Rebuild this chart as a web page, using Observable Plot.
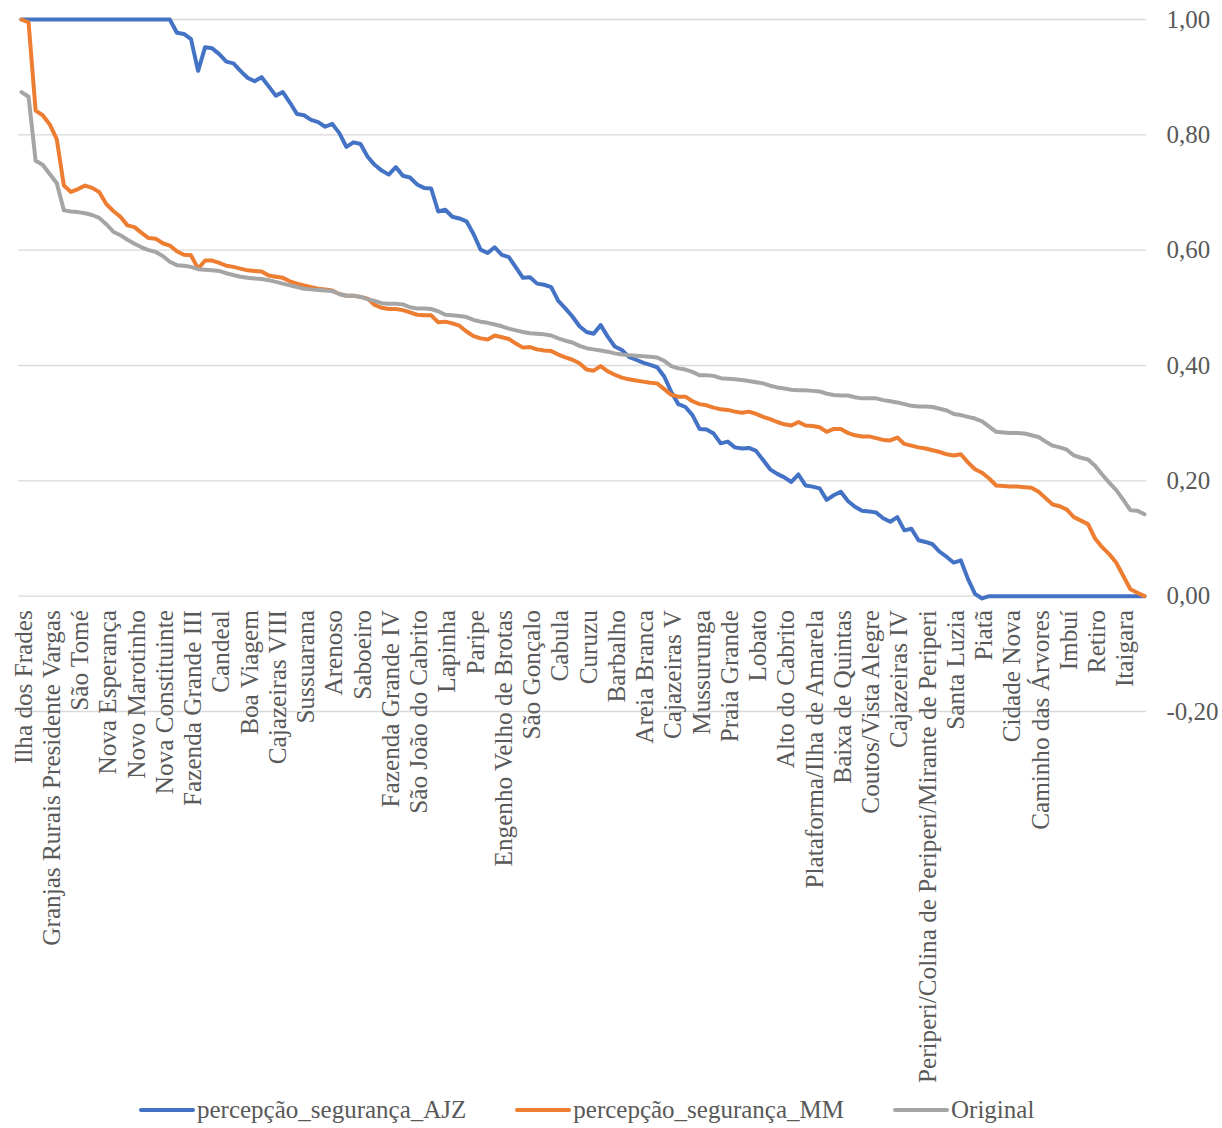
<!DOCTYPE html>
<html>
<head>
<meta charset="utf-8">
<script src="https://cdn.jsdelivr.net/npm/d3@7"></script>
<script src="https://cdn.jsdelivr.net/npm/@observablehq/plot@0.6"></script>
<style>
  html, body { margin: 0; padding: 0; background: #fff; overflow: hidden; }
  #legend { height: 36px; padding-top: 7px; padding-left: 139px; display: flex; align-items: center;
            font-family: "Liberation Serif", "Times New Roman", serif; font-size: 25px; color: #595959; }
  .item { display: flex; align-items: center; margin-right: 49px; white-space: nowrap; }
  .swatch { width: 56px; height: 4px; margin-right: 2px; border-radius: 2px; }
</style>
</head>
<body>
<div id="chart"></div>
<div id="legend"></div>
<script>
// Category labels shown on the axis (every 4th neighbourhood of 160)
const labels = ["Ilha dos Frades", "Granjas Rurais Presidente Vargas", "São Tomé", "Nova Esperança", "Novo Marotinho", "Nova Constituinte", "Fazenda Grande III", "Candeal", "Boa Viagem", "Cajazeiras VIII", "Sussuarana", "Arenoso", "Saboeiro", "Fazenda Grande IV", "São João do Cabrito", "Lapinha", "Paripe", "Engenho Velho de Brotas", "São Gonçalo", "Cabula", "Curuzu", "Barbalho", "Areia Branca", "Cajazeiras V", "Mussurunga", "Praia Grande", "Lobato", "Alto do Cabrito", "Plataforma/Ilha de Amarela", "Baixa de Quintas", "Coutos/Vista Alegre", "Cajazeiras IV", "Periperi/Colina de Periperi/Mirante de Periperi", "Santa Luzia", "Piatã", "Cidade Nova", "Caminho das Árvores", "Imbuí", "Retiro", "Itaigara"];
const labelStep = 4;
const nCategories = 160;

const seriesNames = ["percepção_segurança_AJZ", "percepção_segurança_MM", "Original"];
const seriesColors = ["#4472C4", "#ED7D31", "#A5A5A5"];

const ajz = [
1,1,1,1,1,1,1,1,1,1,
1,1,1,1,1,1,1,1,1,1,
1,1,0.977,0.975,0.966,0.911,0.952,0.950,0.940,0.927,
0.924,0.911,0.899,0.893,0.900,0.884,0.868,0.874,0.856,0.836,
0.834,0.826,0.822,0.814,0.819,0.803,0.779,0.787,0.784,0.762,
0.748,0.738,0.731,0.744,0.729,0.726,0.714,0.708,0.707,0.667,
0.670,0.658,0.655,0.650,0.628,0.601,0.595,0.605,0.592,0.588,
0.570,0.552,0.553,0.542,0.540,0.536,0.512,0.499,0.485,0.468,
0.458,0.455,0.470,0.450,0.433,0.427,0.415,0.410,0.405,0.401,
0.397,0.381,0.354,0.333,0.328,0.314,0.290,0.289,0.282,0.265,
0.268,0.258,0.256,0.257,0.252,0.236,0.220,0.212,0.206,0.198,
0.211,0.192,0.190,0.187,0.167,0.175,0.181,0.165,0.155,0.148,
0.147,0.145,0.135,0.129,0.137,0.114,0.117,0.097,0.094,0.090,
0.077,0.068,0.058,0.062,0.030,0.004,-0.004,0,0,0,
0,0,0,0,0,0,0,0,0,0,
0,0,0,0,0,0,0,0,0,0];

const mm = [
1.0,0.995,0.842,0.834,0.818,0.792,0.712,0.701,0.706,0.712,
0.708,0.701,0.680,0.668,0.658,0.643,0.640,0.630,0.621,0.620,
0.612,0.608,0.598,0.592,0.591,0.568,0.582,0.582,0.578,0.573,
0.571,0.568,0.565,0.564,0.563,0.556,0.554,0.552,0.546,0.542,
0.539,0.536,0.533,0.532,0.530,0.524,0.521,0.521,0.519,0.516,
0.505,0.500,0.498,0.498,0.496,0.492,0.488,0.487,0.487,0.475,
0.476,0.473,0.469,0.459,0.451,0.447,0.445,0.452,0.449,0.446,
0.438,0.431,0.432,0.428,0.426,0.425,0.419,0.414,0.410,0.404,
0.393,0.391,0.399,0.390,0.384,0.379,0.376,0.374,0.372,0.370,
0.369,0.359,0.349,0.346,0.346,0.338,0.333,0.331,0.327,0.324,
0.323,0.320,0.318,0.320,0.316,0.311,0.307,0.302,0.298,0.296,
0.302,0.296,0.295,0.293,0.285,0.290,0.290,0.283,0.279,0.277,
0.277,0.274,0.271,0.270,0.275,0.264,0.261,0.258,0.256,0.253,
0.250,0.246,0.244,0.246,0.232,0.220,0.214,0.204,0.192,0.191,
0.190,0.190,0.189,0.188,0.181,0.170,0.159,0.156,0.150,0.137,
0.131,0.125,0.100,0.085,0.073,0.058,0.035,0.012,0.006,0.0];

const original = [
0.874,0.866,0.755,0.748,0.732,0.716,0.669,0.667,0.666,0.664,
0.661,0.656,0.645,0.632,0.626,0.618,0.611,0.605,0.600,0.597,
0.590,0.580,0.574,0.573,0.571,0.567,0.566,0.565,0.564,0.560,
0.557,0.554,0.552,0.551,0.550,0.548,0.545,0.542,0.539,0.536,
0.533,0.532,0.531,0.530,0.529,0.524,0.521,0.521,0.519,0.515,
0.512,0.508,0.507,0.507,0.506,0.501,0.499,0.499,0.498,0.494,
0.488,0.487,0.486,0.484,0.479,0.476,0.474,0.471,0.468,0.464,
0.461,0.458,0.456,0.455,0.454,0.452,0.447,0.443,0.440,0.434,
0.430,0.428,0.426,0.424,0.421,0.419,0.418,0.417,0.416,0.415,
0.414,0.408,0.399,0.395,0.393,0.389,0.383,0.383,0.382,0.378,
0.377,0.376,0.375,0.373,0.371,0.369,0.365,0.362,0.360,0.358,
0.357,0.357,0.356,0.355,0.351,0.349,0.348,0.348,0.345,0.343,
0.343,0.343,0.340,0.338,0.336,0.333,0.330,0.329,0.329,0.328,
0.325,0.322,0.316,0.314,0.311,0.308,0.303,0.294,0.285,0.284,
0.283,0.283,0.282,0.279,0.276,0.268,0.261,0.258,0.254,0.244,
0.240,0.237,0.226,0.211,0.197,0.184,0.167,0.149,0.148,0.142];

const yTicks = [-0.2, 0, 0.2, 0.4, 0.6, 0.8, 1.0];
const fmt = d => (d < 0 ? "-" : "") + Math.abs(d).toFixed(2).replace(".", ",");

const allSeries = [ajz, mm, original];
const rows = allSeries.flatMap((arr, s) => arr.map((v, i) => ({i, v, s: seriesNames[s]})));
const labelRows = labels.map((name, k) => ({i: k * labelStep, name}));

const font = "'Liberation Serif', 'Times New Roman', serif";

const chart = Plot.plot({
  width: 1222,
  height: 1085,
  marginTop: 19,
  marginBottom: 374,
  marginLeft: 18,
  marginRight: 76,
  style: {fontFamily: font, fontSize: "25px", color: "#595959", background: "#fff"},
  x: {type: "linear", domain: [0, nCategories - 1], insetLeft: 3, insetRight: 2, axis: null},
  y: {domain: [-0.2, 1.0], axis: null},
  color: {domain: seriesNames, range: seriesColors},
  marks: [
    Plot.gridY(yTicks, {stroke: "#D9D9D9", strokeOpacity: 1, strokeWidth: 1.3}),
    Plot.axisY(yTicks, {anchor: "right", tickSize: 0, tickPadding: 20, tickFormat: fmt,
      textAnchor: "start", fontSize: 25, fill: "#595959", label: null}),
    Plot.text(labelRows, {x: "i", y: 0, text: "name", rotate: -90, textAnchor: "end",
      lineAnchor: "middle", dy: 14, dx: 2, fontSize: 25.2, fill: "#595959"}),
    Plot.line(rows, {x: "i", y: "v", z: "s", stroke: "s", strokeWidth: 4,
      strokeLinejoin: "round", strokeLinecap: "round"})
  ]
});
document.getElementById("chart").append(chart);

const legend = document.getElementById("legend");
seriesNames.forEach((name, k) => {
  const item = document.createElement("div");
  item.className = "item";
  const sw = document.createElement("span");
  sw.className = "swatch";
  sw.style.background = seriesColors[k];
  const tx = document.createElement("span");
  tx.textContent = name;
  item.append(sw, tx);
  legend.append(item);
});
</script>
</body>
</html>
